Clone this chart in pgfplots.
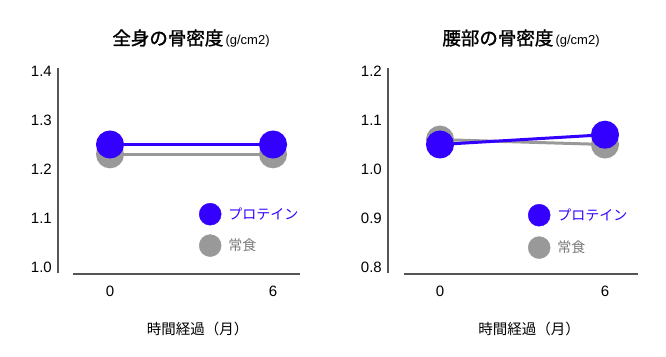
\documentclass[border=0pt]{standalone}
\usepackage{fontspec}
\setmainfont{Liberation Sans}
\newfontfamily\jp{Noto Sans CJK JP}
\newfontfamily\jpt{Noto Sans CJK JP}[FakeBold=1.2]
\usepackage{pgfplots}
\pgfplotsset{compat=1.18}
\definecolor{prot}{HTML}{3300FF}
\definecolor{norm}{HTML}{999999}
\definecolor{normtxt}{HTML}{7A7A7A}
\definecolor{axc}{HTML}{555555}
\pgfplotsset{
  bmd/.style={
    scale only axis,
    height=206pt,
    axis line style={draw=none},
    major tick length=0pt,
    clip=false,
    xtick={0,6},
    xticklabels={0,6},
    tick label style={font=\fontsize{15}{18}\selectfont, inner sep=0pt},
    yticklabel style={anchor=east, xshift=-6pt},
    xticklabel style={anchor=north, yshift=-12pt},
    /pgf/number format/assume math mode=true,
    /pgf/number format/fixed,
    /pgf/number format/fixed zerofill,
    /pgf/number format/precision=1,
    legend image code/.code={\fill[##1] (11pt,0pt) circle (11pt);},
    legend cell align=left,
  },
  normline/.style={color=norm, line width=3pt, mark=*, mark size=12.5pt, mark options={fill=norm, draw=none}},
  protline/.style={color=prot, line width=3pt, mark=*, mark size=12.5pt, mark options={fill=prot, draw=none}},
}
\begin{document}
\begin{tikzpicture}
\useasboundingbox (0,0) rectangle (666pt,356pt);
% left chart
\begin{axis}[bmd,
  at={(58pt,82pt)}, anchor=south west,
  width=242pt,
  xmin=-1.914, xmax=6.993,
  ymin=0.98571, ymax=1.40612,
  ytick={1.0,1.1,1.2,1.3,1.4},
  legend style={draw=none, fill=none, inner sep=0pt, outer sep=0pt,
    at={(0.5826,0.3447)}, anchor=north west, row sep=9pt, column sep=7pt,
    nodes={inner sep=0pt, font=\jp\fontsize{14}{16}\selectfont}},
]
\addlegendimage{prot}
\addlegendentry{\textcolor{prot}{プロテイン}}
\addlegendimage{norm}
\addlegendentry{\textcolor{normtxt}{常食}}
\addplot[normline, forget plot] coordinates {(0,1.23) (6,1.23)};
\addplot[protline, forget plot] coordinates {(0,1.25) (6,1.25)};
\draw[axc, line width=1.3pt] (rel axis cs:0,0.005) -- (rel axis cs:0,1);
\draw[axc, line width=1.3pt] (rel axis cs:0.062,0) -- (rel axis cs:1,0);
\end{axis}
% right chart
\begin{axis}[bmd,
  at={(388pt,82pt)}, anchor=south west,
  width=250pt,
  xmin=-1.891, xmax=7.2,
  ymin=0.78571, ymax=1.20612,
  ytick={0.8,0.9,1.0,1.1,1.2},
  legend style={draw=none, fill=none, inner sep=0pt, outer sep=0pt,
    at={(0.56,0.3398)}, anchor=north west, row sep=10pt, column sep=7pt,
    nodes={inner sep=0pt, font=\jp\fontsize{14}{16}\selectfont}},
]
\addlegendimage{prot}
\addlegendentry{\textcolor{prot}{プロテイン}}
\addlegendimage{norm}
\addlegendentry{\textcolor{normtxt}{常食}}
\addplot[normline, forget plot] coordinates {(0,1.06) (6,1.05)};
\addplot[protline, forget plot] coordinates {(0,1.05) (6,1.07)};
\draw[axc, line width=1.3pt] (rel axis cs:0,0.005) -- (rel axis cs:0,1);
\draw[axc, line width=1.3pt] (rel axis cs:0.064,0) -- (rel axis cs:1,0);
\end{axis}
% titles
\node[anchor=base, inner sep=0pt] at (191pt,311pt) {{\jpt\fontsize{18.5}{21}\selectfont 全身の骨密度}{\fontsize{13}{15}\selectfont\,(g/cm2)}};
\node[anchor=base, inner sep=0pt] at (521pt,311pt) {{\jpt\fontsize{18.5}{21}\selectfont 腰部の骨密度}{\fontsize{13}{15}\selectfont\,(g/cm2)}};
% x labels
\node[anchor=base, inner sep=0pt] at (197.5pt,22pt) {\jp\fontsize{14.5}{17}\selectfont 時間経過（月）};
\node[anchor=base, inner sep=0pt] at (529pt,22pt) {\jp\fontsize{14.5}{17}\selectfont 時間経過（月）};
\end{tikzpicture}
\end{document}
